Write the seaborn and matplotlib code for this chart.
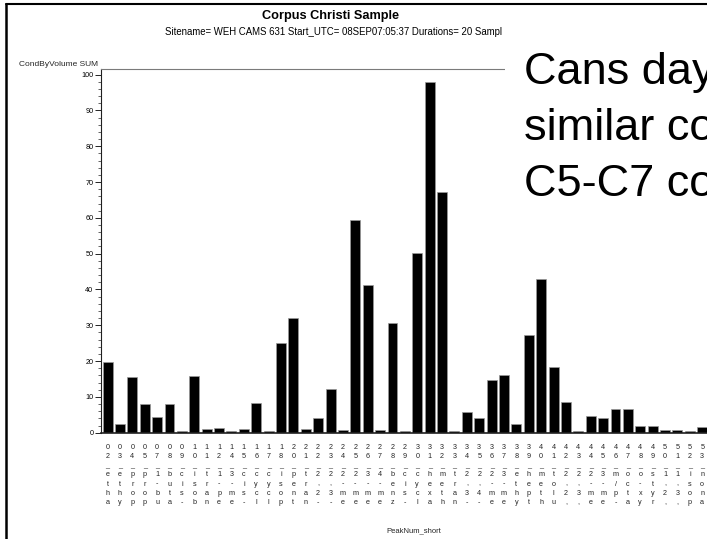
import matplotlib
matplotlib.use("Agg")
import matplotlib.pyplot as plt
from matplotlib.lines import Line2D
from matplotlib.patches import Rectangle
from matplotlib.ticker import MultipleLocator
import seaborn as sns
import pandas as pd

# Peak number + short compound name (PeakNum_short)
peaks = [
    "02_etha", "03_ethy", "04_prop", "05_prop", "07_1-bu", "08_buta", "09_cis-",
    "10_isob", "11_tran", "12_1-pe", "14_3-me", "15_cis-", "16_cycl", "17_cycl",
    "18_isop", "20_pent", "21_tran", "22_2,2-", "23_2,3-", "24_2-me", "25_2-me",
    "26_3-me", "27_4-me", "28_benz", "29_cis-", "30_cycl", "31_hexa", "32_meth",
    "33_tran", "34_2,3-", "35_2,4-", "36_2-me", "37_3-me", "38_ethy", "39_hept",
    "40_meth", "41_tolu", "42_2,2,", "43_2,3,", "44_2-me", "45_3-me", "46_m/p-",
    "47_octa", "48_o-xy", "49_styr", "50_1,2,", "51_1,3,", "52_isop", "53_nona",
]

# CondByVolume SUM per peak
cond_sum = [
    19.8, 2.3, 15.6, 7.9, 4.5, 7.9, 0.4,
    15.9, 0.9, 1.2, 0.4, 0.9, 8.2, 0.5,
    25.1, 31.9, 0.9, 4.0, 12.1, 0.7, 59.3,
    41.3, 0.7, 30.6, 0.5, 50.1, 98.0, 67.3,
    0.5, 5.7, 4.1, 14.6, 16.1, 2.5, 27.4,
    42.8, 18.4, 8.7, 0.4, 4.7, 4.1, 6.5,
    6.5, 2.0, 2.0, 0.7, 0.7, 0.4, 1.5,
]

title = "Corpus Christi Sample"
subtitle = "Sitename= WEH CAMS 631 Start_UTC= 08SEP07:05:37 Durations= 20 Sampl"
note_lines = ["Cans day", "similar co", "C5-C7 co"]

df = pd.DataFrame({"PeakNum_short": peaks, "CondByVolume SUM": cond_sum})

sns.set_theme(style="white")
plt.rcParams["font.family"] = ["Liberation Sans", "DejaVu Sans"]

W, H = 707, 539
fig = plt.figure(figsize=(W / 100, H / 100), dpi=100)
fig.patch.set_facecolor("white")

# axes box in pixel terms: left 101, right 727 (runs past the page edge), top 68.5, bottom 432.7
ax = fig.add_axes([101 / W, (H - 432.7) / H, 626 / W, (432.7 - 68.5) / H])

sns.barplot(data=df, x="PeakNum_short", y="CondByVolume SUM", order=peaks,
            color="black", saturation=1, width=0.8, edgecolor="#9a9a9a",
            linewidth=0.5, ax=ax)

ax.set_ylim(0, 101.7)
ax.set_xlim(-0.53, 50.0)

# y axis: majors every 10, minors every 2
ax.yaxis.set_major_locator(MultipleLocator(10))
ax.yaxis.set_minor_locator(MultipleLocator(2))
ax.tick_params(axis="y", which="major", direction="out", length=4, width=0.6,
               labelsize=5.2, pad=1.5, colors="black", left=True)
ax.tick_params(axis="y", which="minor", direction="out", length=2, width=0.5,
               left=True)

# x axis: stacked one-character-per-row labels
ax.set_xticks(range(len(peaks)))
ax.set_xticklabels(["\n".join(p) for p in peaks], fontsize=5.2, linespacing=1.45,
                   va="top")
ax.tick_params(axis="x", length=0, pad=7.8)

ax.set_xlabel("PeakNum_short", fontsize=5.5, labelpad=15)
ax.set_ylabel("CondByVolume SUM", fontsize=6, rotation=0, ha="right", va="center")
ax.yaxis.set_label_coords(-0.005, 1.012)

for side in ["left", "bottom"]:
    ax.spines[side].set_color("#202020")
    ax.spines[side].set_linewidth(0.8)
ax.spines["bottom"].set_linewidth(1.2)
ax.spines["top"].set_color("#7a7a7a")
ax.spines["top"].set_linewidth(0.8)
ax.spines["right"].set_visible(False)

# headings
fig.text(331 / W, 1 - 16 / H, title, ha="center", va="center", fontsize=9.2,
         fontweight="bold", color="black")
fig.text(165 / W, 1 - 32 / H, subtitle, ha="left", va="center", fontsize=6.95,
         color="black")

# page frame (top and left edges)
fig.add_artist(Line2D([5.5 / W, 5.5 / W], [0, 1 - 3.5 / H], color="black",
                      lw=1.8, transform=fig.transFigure))
fig.add_artist(Line2D([5.5 / W, 1], [1 - 4.2 / H, 1 - 4.2 / H], color="black",
                      lw=1.5, transform=fig.transFigure))

# text box laid over the chart
fig.add_artist(Rectangle((505 / W, (H - 240) / H), (W - 505) / W, (240 - 31.5) / H,
                         facecolor="white", edgecolor="none",
                         transform=fig.transFigure, zorder=5))
for i, line in enumerate(note_lines):
    fig.text(524 / W, 1 - (84 + 56 * i) / H, line, ha="left", va="baseline",
             fontsize=32.5, color="black", zorder=6)

fig.savefig("out.png", dpi=100)
